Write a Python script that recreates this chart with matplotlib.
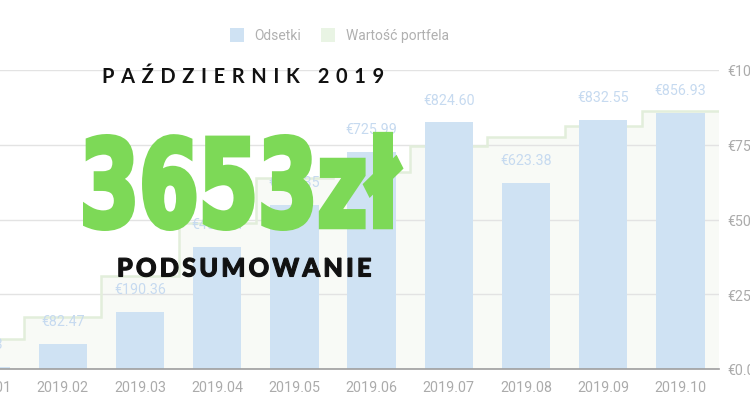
import numpy as np
import matplotlib
matplotlib.use("Agg")
import matplotlib.pyplot as plt
import matplotlib.patheffects as pe
from matplotlib.patches import Rectangle
from matplotlib.textpath import TextPath
from matplotlib.font_manager import FontProperties
from matplotlib.transforms import Affine2D
from matplotlib.ticker import FuncFormatter

W, H = 750, 410

# dane miesięczne
miesiace = ["2019.01", "2019.02", "2019.03", "2019.04", "2019.05",
            "2019.06", "2019.07", "2019.08", "2019.09", "2019.10"]
odsetki = [5.73, 82.47, 190.36, 407.84, 548.35, 725.99, 824.60, 623.38, 832.55, 856.93]
portfel = [100, 173, 311, 488, 639, 660, 745, 777, 814, 862]
os_y = [0, 250, 500, 750, 1000]

naglowek = "PAŹDZIERNIK 2019"
kwota = "3653zł"
podpis = "PODSUMOWANIE"

plt.rcParams["font.family"] = ["Roboto", "DejaVu Sans"]


class Squeeze(pe.AbstractPathEffect):
    """Ściska tekst w poziomie (krój typu condensed) i lekko go pogrubia."""

    def __init__(self, sx=1.0, sy=1.0, thicken=0.0):
        super().__init__()
        self.sx, self.sy, self.thicken = sx, sy, thicken

    def draw_path(self, renderer, gc, tpath, affine, rgbFace=None):
        m = affine.get_matrix()
        x0, y0 = m[0, 2], m[1, 2]
        tr = affine + Affine2D().translate(-x0, -y0).scale(self.sx, self.sy).translate(x0, y0)
        if self.thicken:
            gc0 = renderer.new_gc()
            gc0.copy_properties(gc)
            gc0.set_linewidth(self.thicken)
            gc0.set_foreground(rgbFace)
            gc0.set_joinstyle("miter")
            renderer.draw_path(gc0, tpath, tr, rgbFace)
            gc0.restore()
        else:
            renderer.draw_path(gc, tpath, tr, rgbFace)


def px(x, y):
    # piksele od lewego górnego rogu -> współrzędne figury
    return x / W, 1 - y / H


def tracked(s, sep):
    return sep.join(s)


def fit_width(t, target):
    r = fig.canvas.get_renderer()
    w = t.get_window_extent(r).width
    t.set_fontsize(t.get_fontsize() * target / w)


fig = plt.figure(figsize=(W / 100, H / 100), dpi=100)
ax = fig.add_axes([-53 / W, 40 / H, 772 / W, 299 / H])

x = np.arange(len(miesiace))
krawedzie = np.arange(len(portfel) + 1) - 0.5

# wartość portfela - schodki w tle
ax.stairs(portfel, krawedzie, baseline=0, fill=True, color="#f8faf6", zorder=0.2)
ax.stairs(portfel, krawedzie, baseline=None, color="#e2eedb", lw=1.8, zorder=0.6)

# odsetki - słupki
ax.bar(x, odsetki, width=0.625, color="#cfe2f3", zorder=2)
for xi, v in zip(x, odsetki):
    ax.annotate(f"€{v:.2f}", (xi, v), xytext=(0, 16.5), textcoords="offset points",
                ha="center", va="center", fontsize=10.3, color="#c6daf0", zorder=3)

ax.set_xlim(-0.5, 9.5)
ax.set_ylim(0, 1000)
ax.set_xticks(x, miesiace)
ax.set_yticks(os_y)
ax.yaxis.set_major_formatter(FuncFormatter(lambda v, _: f"€{v:.2f}"))
ax.yaxis.tick_right()
ax.tick_params(length=0, labelsize=10.3, labelcolor="#ababab")
ax.tick_params(axis="x", pad=8)
ax.tick_params(axis="y", pad=6)
for s in ["top", "left", "right"]:
    ax.spines[s].set_visible(False)
ax.spines["bottom"].set_color("#9e9e9e")
ax.spines["bottom"].set_linewidth(1.2)
ax.grid(axis="y", color="#e3e3e3", lw=1)
ax.set_axisbelow(True)

# legenda
fig.patches.append(Rectangle(px(229.5, 43), 14 / W, 14 / H, transform=fig.transFigure,
                             facecolor="#cfe2f3", edgecolor="none"))
fig.text(*px(254, 36), "Odsetki", ha="left", va="center", fontsize=10, color="#b0b0b0")
fig.patches.append(Rectangle(px(321, 43), 14 / W, 14 / H, transform=fig.transFigure,
                             facecolor="#e9f4e4", edgecolor="none"))
fig.text(*px(345.5, 36), "Wartość portfela", ha="left", va="center", fontsize=10, color="#b0b0b0")

# napisy na wykresie
t1 = fig.text(*px(243.5, 83.3), tracked(naglowek, "\u2004"), ha="center", va="baseline",
              fontsize=14, fontweight="bold", family=["Lato", "DejaVu Sans"], color="#111111")
t2 = fig.text(*px(244, 277.5), tracked(podpis, "\u2009"), ha="center", va="baseline",
              fontsize=17, fontweight="black", family=["Lato", "DejaVu Sans"], color="#111111",
              path_effects=[Squeeze(1.0, 1.0, thicken=0.8)])
fit_width(t1, 284)
fit_width(t2, 255)

fp = FontProperties(family="DejaVu Sans", weight="bold")
ink = TextPath((0, 0), kwota, prop=fp, size=100).get_extents()
ink3 = TextPath((0, 0), "3", prop=fp, size=100).get_extents()
gr = 5.0  # pogrubienie w px
size_px = (97 - gr) / (ink3.height / 100)
sx = (320 - gr) / (ink.width * size_px / 100)
x0 = 83 + gr / 2 - ink.x0 * size_px / 100 * sx
y_base = 232 - gr / 2 + ink3.y0 * size_px / 100
fig.text(*px(x0, y_base), kwota, ha="left", va="baseline", fontsize=size_px * 0.72,
         family="DejaVu Sans", fontweight="bold", color="#7dd957",
         path_effects=[Squeeze(sx, 1.0, thicken=gr * 0.72)])

fig.savefig("out.png", dpi=100)
